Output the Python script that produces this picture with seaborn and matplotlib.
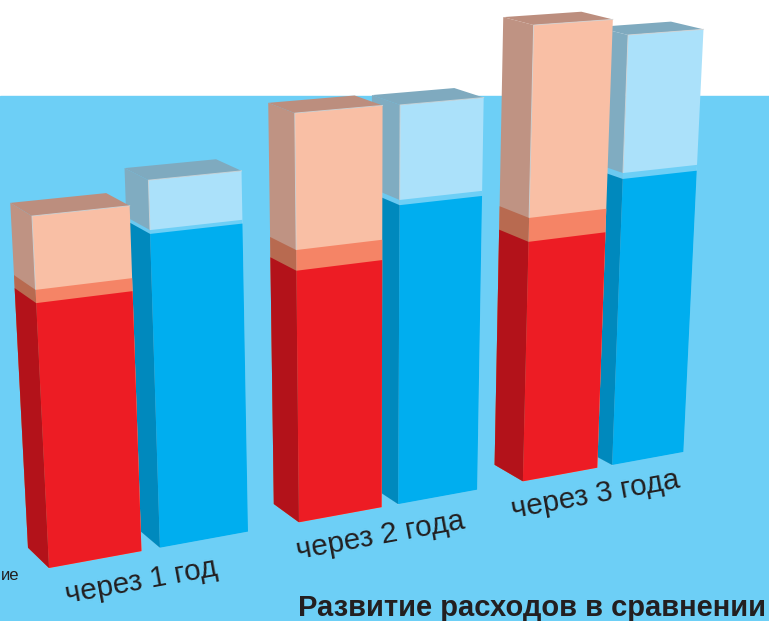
"""
###############################################################################

Cost development comparison - pseudo 3D bars

###############################################################################
"""
#------------------------------------------------------------------------------
# Libraries
#------------------------------------------------------------------------------

import numpy as np
import pandas as pd
import seaborn as sns
import matplotlib
matplotlib.use('Agg')
import matplotlib.pyplot as plt
import matplotlib.transforms as mtransforms
from matplotlib.patches import Polygon, Rectangle

#------------------------------------------------------------------------------
# Data (levels of each stacked part, same value units for all bars)
#------------------------------------------------------------------------------

periods = ['через 1 год', 'через 2 года', 'через 3 года']
series = ['Вариант A', 'Вариант B']

red_base = [100.0, 100.0, 100.0]
red_band = [104.8, 107.9, 109.6]
red_total = [131.2, 159.0, 184.7]

blue_base = [120.2, 120.5, 121.0]
blue_band = [121.6, 122.5, 123.4]
blue_total = [139.7, 158.6, 178.2]

title = 'Развитие расходов в сравнении'

#------------------------------------------------------------------------------
# Settings
#------------------------------------------------------------------------------

W_PX, H_PX = 769, 621
FONT = 'Liberation Sans'
TXT = '#231F20'

BG_BLUE = '#6DCFF6'
colors = {  # (front, side, top)
    ('total', 0): ('#F9BFA5', '#BF9383', '#BC8E7E'),
    ('band', 0): ('#F58466', '#B86A50', None),
    ('base', 0): ('#ED1C24', '#B3121A', None),
    ('total', 1): ('#ABE1FA', '#80ACC1', '#7FAABF'),
    ('band', 1): ('#6DCFF6', '#6BC9F0', None),
    ('base', 1): ('#00AEEF', '#0089BD', None),
}

# perspective view: vanishing points (image pixels) and strengths
VP_U, A_U = (4608.0, -266.0), 0.058      # along the row of bars
VP_V, B_V = (366.0, 7121.0), -0.0003885  # vertical (value axis)
VP_Z, C_Z = (-900.0, -350.0), 0.02263    # depth of the bars
ORIGIN = (49.0, 568.0)                   # first bar, front bottom-left
BAR_WIDTH, BAR_GAP = 0.86, 0.17
U0 = -BAR_WIDTH / 4 - BAR_WIDTH / 4 * (1 - BAR_GAP)

def project(u, v, z):
    u, v, z = np.broadcast_arrays(np.asarray(u, float), np.asarray(v, float),
                                  np.asarray(z, float))
    a = A_U * (u - U0)
    b = B_V * v
    c = C_Z * z
    w = 1 + a + b + c
    X = (a * VP_U[0] + b * VP_V[0] + c * VP_Z[0] + ORIGIN[0]) / w
    Y = (a * VP_U[1] + b * VP_V[1] + c * VP_Z[1] + ORIGIN[1]) / w
    return np.column_stack([X / W_PX, 1 - Y / H_PX])

class Perspective(mtransforms.Transform):
    input_dims = output_dims = 2
    is_separable = False
    has_inverse = False

    def __init__(self, zdepth=0.0):
        super().__init__()
        self.zdepth = zdepth

    def transform_non_affine(self, values):
        values = np.asarray(values, float)
        return project(values[:, 0], values[:, 1], self.zdepth)

#------------------------------------------------------------------------------
# Table
#------------------------------------------------------------------------------

df = pd.DataFrame({
    'period': periods * 2,
    'series': [series[0]] * 3 + [series[1]] * 3,
    'base': red_base + blue_base,
    'band': red_band + blue_band,
    'total': red_total + blue_total,
})

#------------------------------------------------------------------------------
# Figure
#------------------------------------------------------------------------------

fig = plt.figure(figsize=(W_PX / 100, H_PX / 100), dpi=100)
fig.patch.set_facecolor('white')
ax = fig.add_axes([0, 0, 1, 1])
ax.axis('off')

ax.add_patch(Rectangle((0, 0), 1, 1 - 96 / H_PX, transform=fig.transFigure,
                       color=BG_BLUE, zorder=-10, clip_on=False))

proj = Perspective(0.0) + fig.transFigure
seg_z = {'total': 0.0, 'band': 0.1, 'base': 0.2}

for col in ['total', 'band', 'base']:
    n0 = len(ax.patches)
    sns.barplot(data=df, x='period', y=col, hue='series', order=periods,
                hue_order=series, palette=[colors[(col, 0)][0], colors[(col, 1)][0]],
                width=BAR_WIDTH, gap=BAR_GAP, saturation=1, errorbar=None,
                legend=False, linewidth=0, ax=ax)
    for p in ax.patches[n0:]:
        ul = p.get_x()
        ur = ul + p.get_width()
        top = p.get_y() + p.get_height()
        mid = (ul + ur) / 2
        s = 0 if mid < round(mid) else 1
        front, side, topc = colors[(col, s)]
        zb = 10 + (3 - mid) * 2 + seg_z[col]

        p.set_transform(proj)
        p.set_clip_on(False)
        p.set_zorder(zb)

        # left side face
        sv = project([ul, ul, ul, ul], [0, top, top, 0], [0, 0, 1, 1])
        ax.add_patch(Polygon(sv, closed=True, facecolor=side, edgecolor='none',
                             transform=fig.transFigure, zorder=zb, clip_on=False))
        # top face
        if topc is not None:
            tv = project([ul, ur, ur, ul], [top] * 4, [0, 0, 1, 1])
            ax.add_patch(Polygon(tv, closed=True, facecolor=topc, edgecolor='none',
                                 transform=fig.transFigure, zorder=zb + 0.05,
                                 clip_on=False))
            ev = project([ul, ul, ur], [0, top, top], [0, 0, 0])
            ax.plot(ev[:, 0], ev[:, 1], color='#D6D6D6', lw=0.7, alpha=0.8,
                    transform=fig.transFigure, zorder=zb + 0.06, clip_on=False)

#------------------------------------------------------------------------------
# Labels
#------------------------------------------------------------------------------

for i, lab in enumerate(periods):
    c = project([i - 0.04, i - 0.4, i + 0.2], [-12, 0, 0], [0, 0, 0])
    dx = (c[2, 0] - c[1, 0]) * W_PX
    dy = (c[2, 1] - c[1, 1]) * H_PX
    ang = np.degrees(np.arctan2(dy, dx))
    fig.text(c[0, 0], c[0, 1], lab, rotation=ang, rotation_mode='anchor',
             ha='center', va='center', fontsize=21.3, color=TXT, family=FONT)

fig.text(1 / W_PX, 1 - 580 / H_PX, 'ие', ha='left', va='baseline',
         fontsize=12, color=TXT, family=FONT)
fig.text(298 / W_PX, 1 - 616 / H_PX, title, ha='left', va='baseline',
         fontsize=21, fontweight='bold', color=TXT, family=FONT)

fig.savefig('out.png', dpi=100)
